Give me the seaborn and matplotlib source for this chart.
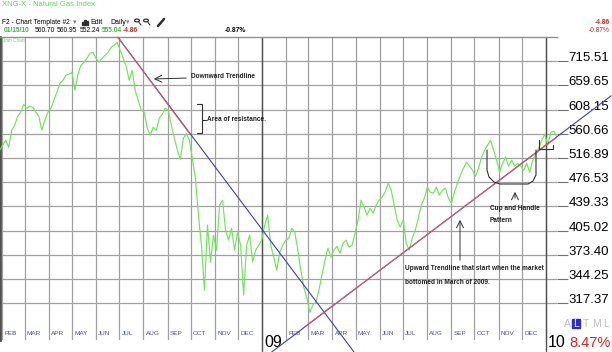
import pandas as pd
import matplotlib
matplotlib.use("Agg")
import matplotlib.pyplot as plt
import matplotlib.dates as mdates
import matplotlib.ticker as mticker
import matplotlib.transforms as mtransforms
from matplotlib.lines import Line2D
from matplotlib.patches import Rectangle, Circle
import seaborn as sns

W, H = 612, 352

price = [
    530.6, 539.5, 548.7, 535.9, 567.4, 577.1, 594.8, 602.9, 619.3, 611.0,
    615.1, 613.0, 602.9, 594.8, 567.4, 586.8, 602.9, 611.0, 627.6, 644.8,
    664.5, 671.2, 682.7, 685.0, 689.6, 649.1, 685.0, 706.0, 713.1, 722.8,
    735.0, 737.5, 722.8, 713.1, 722.8, 730.1, 737.5, 750.0, 755.0, 762.7,
    742.4, 722.8, 703.6, 671.2, 694.2, 649.1, 627.6, 606.9, 602.9, 571.3,
    558.0, 573.2, 567.4, 590.8, 598.8, 611.0, 606.9, 577.1, 552.4, 530.6,
    514.7, 552.4, 561.2, 548.7, 514.7, 482.9, 426.5, 385.5, 331.4, 412.4,
    364.2, 398.7, 379.1, 441.0, 448.5, 405.5, 392.1, 408.2, 379.1, 402.8,
    385.5, 325.9, 385.5, 398.7, 364.2, 379.1, 385.5, 392.1, 412.4, 426.5,
    385.5, 370.3, 354.5, 376.6, 385.5, 392.1, 394.7, 408.2, 402.8, 379.1,
    354.5, 334.7, 322.7, 307.8, 315.2, 318.4, 331.4, 348.6, 366.6, 381.6,
    370.3, 379.1, 384.2, 375.3, 388.1, 392.1, 382.9, 385.5, 401.4, 419.3,
    448.5, 438.1, 426.5, 436.6, 429.2, 441.0, 448.5, 453.1, 460.7, 474.9,
    463.8, 441.0, 419.3, 409.6, 419.3, 388.1, 379.1, 394.7, 405.5, 422.1,
    441.0, 451.5, 468.6, 460.7, 459.2, 468.6, 456.1, 463.8, 467.0, 451.5,
    444.0, 460.7, 474.9, 487.8, 499.4, 509.6, 502.8, 496.0, 486.2, 499.4,
    518.2, 530.6, 539.5, 548.7, 530.6, 513.0, 492.7, 507.9, 518.2, 502.8,
    513.0, 502.8, 507.9, 502.8, 496.0, 507.9, 492.7, 513.0, 523.5, 534.1,
    548.7, 559.9, 539.5, 563.6, 565.5, 555.04,
]
first_day = "2008-01-29"
last_day = "2010-01-15"

level_values = [715.51, 659.65, 608.15, 560.66, 516.89, 476.53,
                439.33, 405.02, 373.40, 344.25, 317.37]
level_labels = ["715.51", "659.65", "608.15", "560.66", "516.89", "476.53",
                "439.33", "405.02", "373.40", "344.25", "317.37"]

month_labels = ["FEB", "MAR", "APR", "MAY", "JUN", "JUL", "AUG", "SEP", "OCT", "NOV", "DEC", "09",
                "FEB", "MAR", "APR", "MAY", "JUN", "JUL", "AUG", "SEP", "OCT", "NOV", "DEC", "10"]

# trendlines: full line (blue) and the part between the touch points (red)
down_line_dates = ["2008-06-29", "2009-04-29"]
down_line_prices = [776.0, 269.2]
down_touch_dates = ["2008-06-29", "2008-09-29"]
down_touch_prices = [776.0, 561.8]
up_line_dates = ["2009-01-13", "2010-03-26"]
up_line_prices = [269.2, 637.2]
up_touch_dates = ["2009-02-24", "2010-01-15"]
up_touch_prices = [292.8, 554.3]

quote_date = "01/15/10"
quote_ohlc = ["560.70", "560.95", "552.24", "555.04"]
quote_change = "-4.86"
quote_pct = "-0.87%"
year_pct = "8.47%"

sns.set_style("white")
plt.rcParams["font.family"] = ["Liberation Sans", "DejaVu Sans"]

GREEN = "#6ee65a"
GRID = "#a0a0a0"


def px(x, y):
    # figure pixel (from top-left) -> figure fraction
    return x / W, 1 - y / H


fig = plt.figure(figsize=(W / 100, H / 100), dpi=100)
ax = fig.add_axes([0, 1 - 340 / H, 557 / W, (340 - 37) / H])

df = pd.DataFrame({
    "date": pd.date_range(first_day, last_day, periods=len(price)),
    "close": price,
})
sns.lineplot(data=df, x="date", y="close", ax=ax, color=GREEN, linewidth=0.85, zorder=3)

ax.set_yscale("log")
ax.set_xlim(pd.Timestamp("2008-01-29 10:00"), pd.Timestamp("2010-01-15 05:00"))
ax.set_ylim(280.3, 776.4)
ax.set_xlabel("")
ax.set_ylabel("")

# price levels on the right
ax.yaxis.tick_right()
ax.set_yticks(level_values)
ax.set_yticklabels(level_labels)
ax.yaxis.set_minor_locator(mticker.NullLocator())
ax.tick_params(axis="y", length=8, width=0.8, color="#707070", pad=0.5,
               labelsize=9.5, direction="out", labelcolor="black")
for lbl in ax.get_yticklabels():
    lbl.set_va("baseline")

# month grid
month_starts = pd.date_range("2008-02-01", periods=len(month_labels), freq="MS")
ax.set_xticks(month_starts)
ax.set_xticklabels([])
ax.tick_params(axis="x", length=0)
ax.grid(axis="both", color=GRID, linewidth=0.9)
ax.set_axisbelow(True)

blend = mtransforms.blended_transform_factory(ax.transData, ax.transAxes)
for d, name in zip(month_starts, month_labels):
    xd = mdates.date2num(d)
    if name.isdigit():
        ax.axvline(xd, ymin=-0.035, ymax=1, color="#505050", linewidth=1.0,
                   clip_on=False, zorder=1)
        ax.text(xd + 2, -0.008, name, transform=blend, fontsize=11.5,
                color="black", va="center", ha="left", clip_on=False)
    else:
        ax.text(xd + 3, 0.023, name, transform=blend, fontsize=4.6,
                color="#4848c8", va="center", ha="left")

for side in ["right", "bottom"]:
    ax.spines[side].set_visible(False)
ax.spines["left"].set_color("#505050")
ax.spines["left"].set_linewidth(2)
ax.spines["top"].set_color("#909090")
ax.spines["top"].set_linewidth(1)

# trendlines
ax.plot(pd.to_datetime(down_line_dates), down_line_prices, color="#3c3cc8",
        linewidth=0.8, clip_on=False, zorder=4)
ax.plot(pd.to_datetime(down_touch_dates), down_touch_prices, color="#e05a5a",
        linewidth=0.8, zorder=5)
ax.plot(pd.to_datetime(up_line_dates), up_line_prices, color="#3c3cc8",
        linewidth=0.8, clip_on=False, zorder=4)
ax.plot(pd.to_datetime(up_touch_dates), up_touch_prices, color="#e05a5a",
        linewidth=0.8, zorder=5)

# hand-drawn notes
note = dict(fontsize=4.7, fontweight="bold", color="#202020", va="center", ha="left")
arrow = dict(arrowstyle="->,head_length=0.5,head_width=0.25", color="#303030", lw=0.7)
ink = dict(color="#303030", linewidth=0.8)


def draw(points):
    xs, ys = zip(*[px(x, y) for x, y in points])
    fig.add_artist(Line2D(xs, ys, transform=fig.transFigure, **ink))


ax.annotate("", xy=px(151, 79), xytext=px(189, 78), xycoords="figure fraction",
            textcoords="figure fraction", arrowprops=arrow)
fig.text(*px(191, 77), "Downward Trendline", **note)

draw([(197, 104), (202, 104), (202, 133), (197, 133)])
draw([(202, 120), (206, 120)])
fig.text(*px(207, 120), "Area of resistance.", **note)

draw([(487, 150), (487, 170), (489, 177), (494, 182), (500, 184),
      (528, 184), (533, 181), (536, 175), (536, 150)])
draw([(539, 140), (539, 149), (553, 149), (553, 145)])
ax.annotate("", xy=px(515, 189), xytext=px(515, 201), xycoords="figure fraction",
            textcoords="figure fraction", arrowprops=arrow)
fig.text(*px(490, 209), "Cup and Handle", **note)
fig.text(*px(490, 221), "Pattern", **note)

ax.annotate("", xy=px(460, 217), xytext=px(460, 263), xycoords="figure fraction",
            textcoords="figure fraction", arrowprops=arrow)
fig.text(*px(405, 269), "Upward Trendline that start when the market", **note)
fig.text(*px(405, 283), "bottomed in March of 2009.", **note)

# header
fig.text(*px(2, 5), "XNG-X - Natural Gas Index", color="#5cd65c", fontsize=5.5, va="center")
fig.text(*px(2, 22), "F2 - Chart Template #2", color="black", fontsize=4.8, va="center")
fig.text(*px(73, 22), "\u25be", color="#808080", fontsize=5, va="center", family=["DejaVu Sans"])
for i, hgt in enumerate([3, 5, 4]):
    fig.add_artist(Rectangle(px(82 + i * 2.3, 25), 1.6 / W, hgt / H,
                             transform=fig.transFigure, color="#303030"))
fig.text(*px(90, 22), "Edit", color="black", fontsize=5, va="center")
fig.text(*px(110, 22), "Daily", color="black", fontsize=5, va="center")
fig.text(*px(126, 22), "\u25be", color="#808080", fontsize=5, va="center", family=["DejaVu Sans"])
for cx in [137, 146]:
    fig.add_artist(Circle(px(cx, 20.5), 2.4 / W, transform=fig.transFigure,
                          fill=False, color="#303030", lw=0.9))
    draw([(cx + 2, 22.5), (cx + 4, 25)])
fig.add_artist(Line2D(*zip(px(158, 26), px(164, 19)), transform=fig.transFigure,
                      color="#303030", linewidth=1.8))

hdr = dict(fontsize=4.8, va="center")
fig.text(*px(4, 31), quote_date, color="#3cb83c", fontweight="bold", **hdr)
for xx, val in zip([35, 57, 80], quote_ohlc[:3]):
    fig.text(*px(xx, 31), val, color="black", **hdr)
fig.text(*px(102, 31), quote_ohlc[3], color="#3cb83c", fontweight="bold", **hdr)
fig.text(*px(123, 31), quote_change, color="#e02020", fontweight="bold", **hdr)
fig.text(*px(225, 31), quote_pct, color="black", fontweight="bold", **hdr)
fig.text(*px(610, 23), quote_change, color="#e02020", fontweight="bold", ha="right", **hdr)
fig.text(*px(610, 31), quote_pct, color="#e02020", ha="right", **hdr)
fig.text(*px(2, 40.5), "Dmh Chart", color="#5cd65c", fontsize=3.3, va="center")

# bottom-right badge
for xx, ch in zip([564, 573, 583, 592, 603], "ALTML"):
    if ch == "L" and xx == 573:
        fig.add_artist(Rectangle(px(572, 328), 8 / W, 9 / H, transform=fig.transFigure,
                                 color="#2a2ad8"))
        fig.text(*px(xx + 0.5, 324), ch, color="white", fontsize=7.5, va="center")
    else:
        fig.text(*px(xx, 324), ch, color="#c0c0c0", fontsize=7.5, va="center")
fig.text(*px(611, 343), year_pct, color="#e02020", fontsize=10.5, va="center", ha="right")

fig.savefig("out.png", dpi=100)
